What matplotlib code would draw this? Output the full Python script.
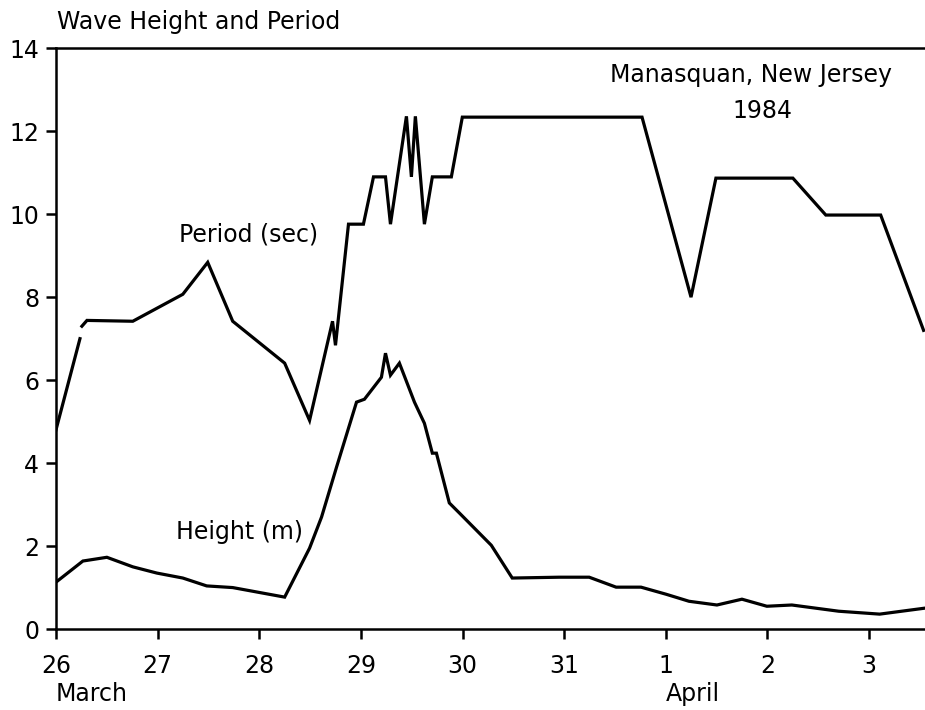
import numpy as np
from matplotlib import pyplot as plt

plt.rcParams['font.family'] = ['DejaVu Sans']

""" Data read off the figure: days since 26 March 1984, 00:00 """
period_days = [0.0, 0.236, np.nan, 0.255, 0.305, 0.756, 1.248, 1.493, 1.739,
               2.25, 2.495, 2.721, 2.75, 2.878, 3.025, 3.124, 3.242, 3.291,
               3.448, 3.497, 3.536, 3.625, 3.703, 3.89, 3.998, 5.766, 6.248,
               6.493, 7.25, 7.574, 8.114, 8.536]
period_sec = [4.8, 7.0, np.nan, 7.3, 7.44, 7.42, 8.07, 8.84, 7.42,
              6.41, 5.03, 7.42, 6.84, 9.76, 9.76, 10.9, 10.9, 9.76,
              12.36, 10.9, 12.36, 9.76, 10.9, 10.9, 12.34, 12.34, 8.0,
              10.87, 10.87, 9.98, 9.98, 7.2]

height_days = [0.0, 0.265, 0.501, 0.756, 0.992, 1.248, 1.483, 1.739, 2.25,
               2.495, 2.613, 2.76, 2.957, 3.035, 3.202, 3.242, 3.291, 3.379,
               3.527, 3.625, 3.703, 3.743, 3.87, 3.968, 4.283, 4.489, 4.951,
               5.246, 5.511, 5.756, 6.002, 6.228, 6.503, 6.749, 6.994, 7.24,
               7.701, 8.104, 8.536]
height_m = [1.13, 1.64, 1.73, 1.5, 1.35, 1.23, 1.04, 1.0, 0.77,
            1.95, 2.7, 3.9, 5.47, 5.54, 6.07, 6.65, 6.12, 6.41,
            5.47, 4.96, 4.24, 4.24, 3.04, 2.8, 2.02, 1.23, 1.25,
            1.25, 1.01, 1.01, 0.84, 0.67, 0.58, 0.72, 0.55, 0.58,
            0.43, 0.36, 0.5]

day_ticks = [0, 1, 2, 3, 4, 5, 6, 7, 8]
day_labels = ['26', '27', '28', '29', '30', '31', '1', '2', '3']
y_ticks = [0, 2, 4, 6, 8, 10, 12, 14]

fs = 17

fig = plt.figure(figsize=(9.25, 7.10), dpi=100)
ax = fig.add_axes([0.0605, 0.114, 0.9395, 0.818])

ax.plot(period_days, period_sec, color='black', lw=2.3, solid_joinstyle='miter')
ax.plot(height_days, height_m, color='black', lw=2.3, solid_joinstyle='miter')

ax.set_xlim(0, 8.55)
ax.set_ylim(0, 14)
ax.set_xticks(day_ticks)
ax.set_xticklabels(day_labels)
ax.set_yticks(y_ticks)
ax.tick_params(direction='out', length=7, width=1.8, labelsize=fs, pad=5)
ax.tick_params(axis='x', pad=11)

for s in ['left', 'bottom', 'top']:
    ax.spines[s].set_linewidth(1.8)
ax.spines['right'].set_visible(False)

# month labels under the day ticks
ax.text(0, -0.112, 'March', transform=ax.get_xaxis_transform(), fontsize=fs,
        ha='left', va='center')
ax.text(6.0, -0.112, 'April', transform=ax.get_xaxis_transform(), fontsize=fs,
        ha='left', va='center')

# annotations
ax.text(1.89, 9.5, 'Period (sec)', fontsize=fs, ha='center', va='center')
ax.text(1.81, 2.34, 'Height (m)', fontsize=fs, ha='center', va='center')
ax.text(6.84, 13.35, 'Manasquan, New Jersey', fontsize=fs, ha='center', va='center')
ax.text(6.95, 12.5, '1984', fontsize=fs, ha='center', va='center')

fig.text(0.062, 0.969, 'Wave Height and Period', fontsize=fs, ha='left', va='center')

plt.savefig('out.png', dpi=100)
